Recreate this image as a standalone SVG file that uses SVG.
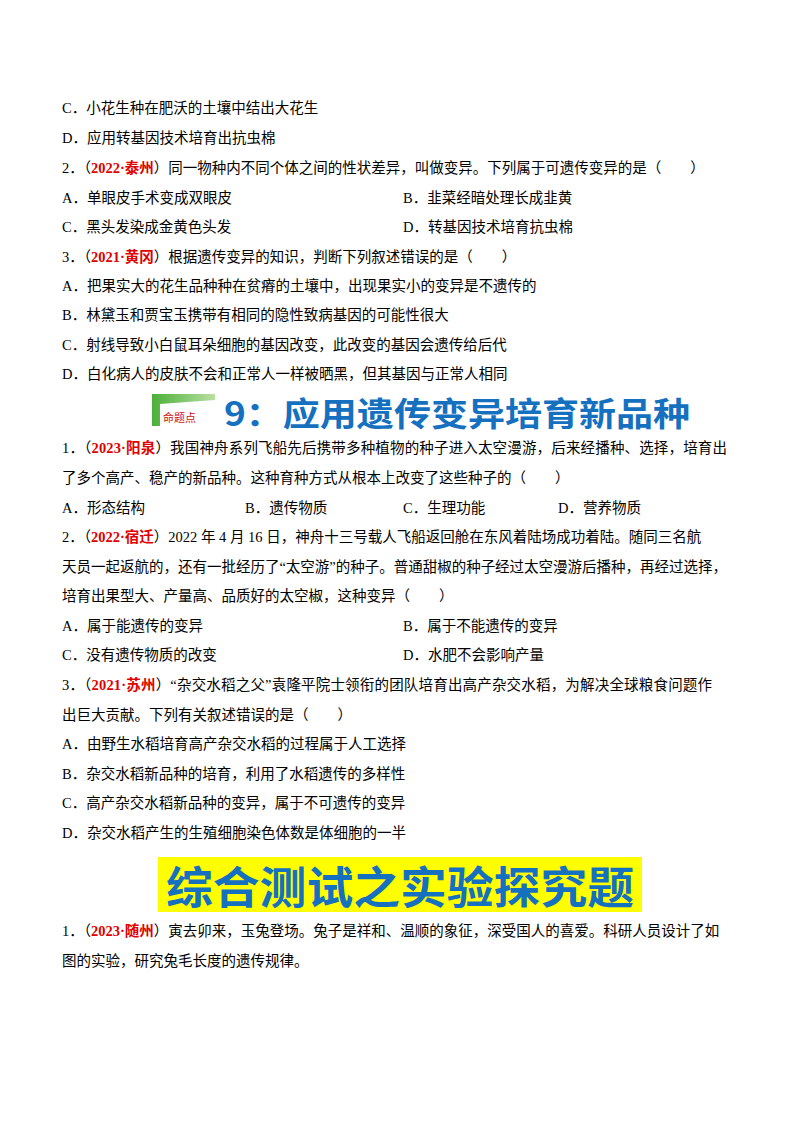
<svg xmlns="http://www.w3.org/2000/svg" width="800" height="1132" viewBox="0 0 800 1132">
<style>
text{font-family:"Liberation Serif","Noto Sans CJK SC",serif;font-size:14.5px;fill:#000;dominant-baseline:central}
.r{fill:#e00000;font-weight:bold}
.h{font-family:"Noto Sans CJK SC",sans-serif;font-weight:700;fill:#1570c0}
</style>
<rect width="800" height="1132" fill="#fff"/>
<text x="62" y="108">C．小花生种在肥沃的土壤中结出大花生</text>
<text x="62" y="138">D．应用转基因技术培育出抗虫棉</text>
<text x="62" y="168">2．（<tspan class="r">2022·泰州</tspan>）同一物种内不同个体之间的性状差异，叫做变异。下列属于可遗传变异的是（　　）</text>
<text x="62" y="198">A．单眼皮手术变成双眼皮</text>
<text x="403" y="198">B．韭菜经暗处理长成韭黄</text>
<text x="62" y="227">C．黑头发染成金黄色头发</text>
<text x="403" y="227">D．转基因技术培育抗虫棉</text>
<text x="62" y="257">3．（<tspan class="r">2021·黄冈</tspan>）根据遗传变异的知识，判断下列叙述错误的是（　　）</text>
<text x="62" y="286">A．把果实大的花生品种种在贫瘠的土壤中，出现果实小的变异是不遗传的</text>
<text x="62" y="315">B．林黛玉和贾宝玉携带有相同的隐性致病基因的可能性很大</text>
<text x="62" y="345">C．射线导致小白鼠耳朵细胞的基因改变，此改变的基因会遗传给后代</text>
<text x="62" y="374">D．白化病人的皮肤不会和正常人一样被晒黑，但其基因与正常人相同</text>
<g id="banner9">
<defs><linearGradient id="g" x1="0" y1="0" x2="1" y2="0"><stop offset="0" stop-color="#4caf3a"/><stop offset="1" stop-color="#b8e0a0"/></linearGradient></defs>
<path d="M152,394 L215,394 L215,400 L160,404 L160,426 L152,426 Z" fill="url(#g)"/>
<text x="163" y="417" style="font-size:11px;fill:#d01010;font-family:'Noto Sans CJK SC',sans-serif">命题点</text>
<text class="h" x="224" y="412" style="font-size:33px" textLength="466" lengthAdjust="spacingAndGlyphs">9：应用遗传变异培育新品种</text>
</g>
<text x="62" y="448" textLength="665">1．（<tspan class="r">2023·阳泉</tspan>）我国神舟系列飞船先后携带多种植物的种子进入太空漫游，后来经播种、选择，培育出</text>
<text x="62" y="478">了多个高产、稳产的新品种。这种育种方式从根本上改变了这些种子的（　　）</text>
<text x="62" y="508">A．形态结构</text>
<text x="245" y="508">B．遗传物质</text>
<text x="403" y="508">C．生理功能</text>
<text x="558" y="508">D．营养物质</text>
<text x="62" y="537">2．（<tspan class="r">2022·宿迁</tspan>）2022 年 4 月 16 日，神舟十三号载人飞船返回舱在东风着陆场成功着陆。随同三名航</text>
<text x="62" y="567" textLength="665">天员一起返航的，还有一批经历了“太空游”的种子。普通甜椒的种子经过太空漫游后播种，再经过选择，</text>
<text x="62" y="596">培育出果型大、产量高、品质好的太空椒，这种变异（　　）</text>
<text x="62" y="626">A．属于能遗传的变异</text>
<text x="403" y="626">B．属于不能遗传的变异</text>
<text x="62" y="655">C．没有遗传物质的改变</text>
<text x="403" y="655">D．水肥不会影响产量</text>
<text x="62" y="685" textLength="650">3．（<tspan class="r">2021·苏州</tspan>）“杂交水稻之父”袁隆平院士领衔的团队培育出高产杂交水稻，为解决全球粮食问题作</text>
<text x="62" y="715">出巨大贡献。下列有关叙述错误的是（　　）</text>
<text x="62" y="744">A．由野生水稻培育高产杂交水稻的过程属于人工选择</text>
<text x="62" y="774">B．杂交水稻新品种的培育，利用了水稻遗传的多样性</text>
<text x="62" y="803">C．高产杂交水稻新品种的变异，属于不可遗传的变异</text>
<text x="62" y="833">D．杂交水稻产生的生殖细胞染色体数是体细胞的一半</text>
<g id="banner-test">
<rect x="158" y="857" width="484" height="55" fill="#ffff00"/>
<text class="h" x="166" y="885" style="font-size:44px" textLength="468" lengthAdjust="spacingAndGlyphs">综合测试之实验探究题</text>
</g>
<text x="62" y="931">1．（<tspan class="r">2023·随州</tspan>）寅去卯来，玉兔登场。兔子是祥和、温顺的象征，深受国人的喜爱。科研人员设计了如</text>
<text x="62" y="961">图的实验，研究兔毛长度的遗传规律。</text>
</svg>
